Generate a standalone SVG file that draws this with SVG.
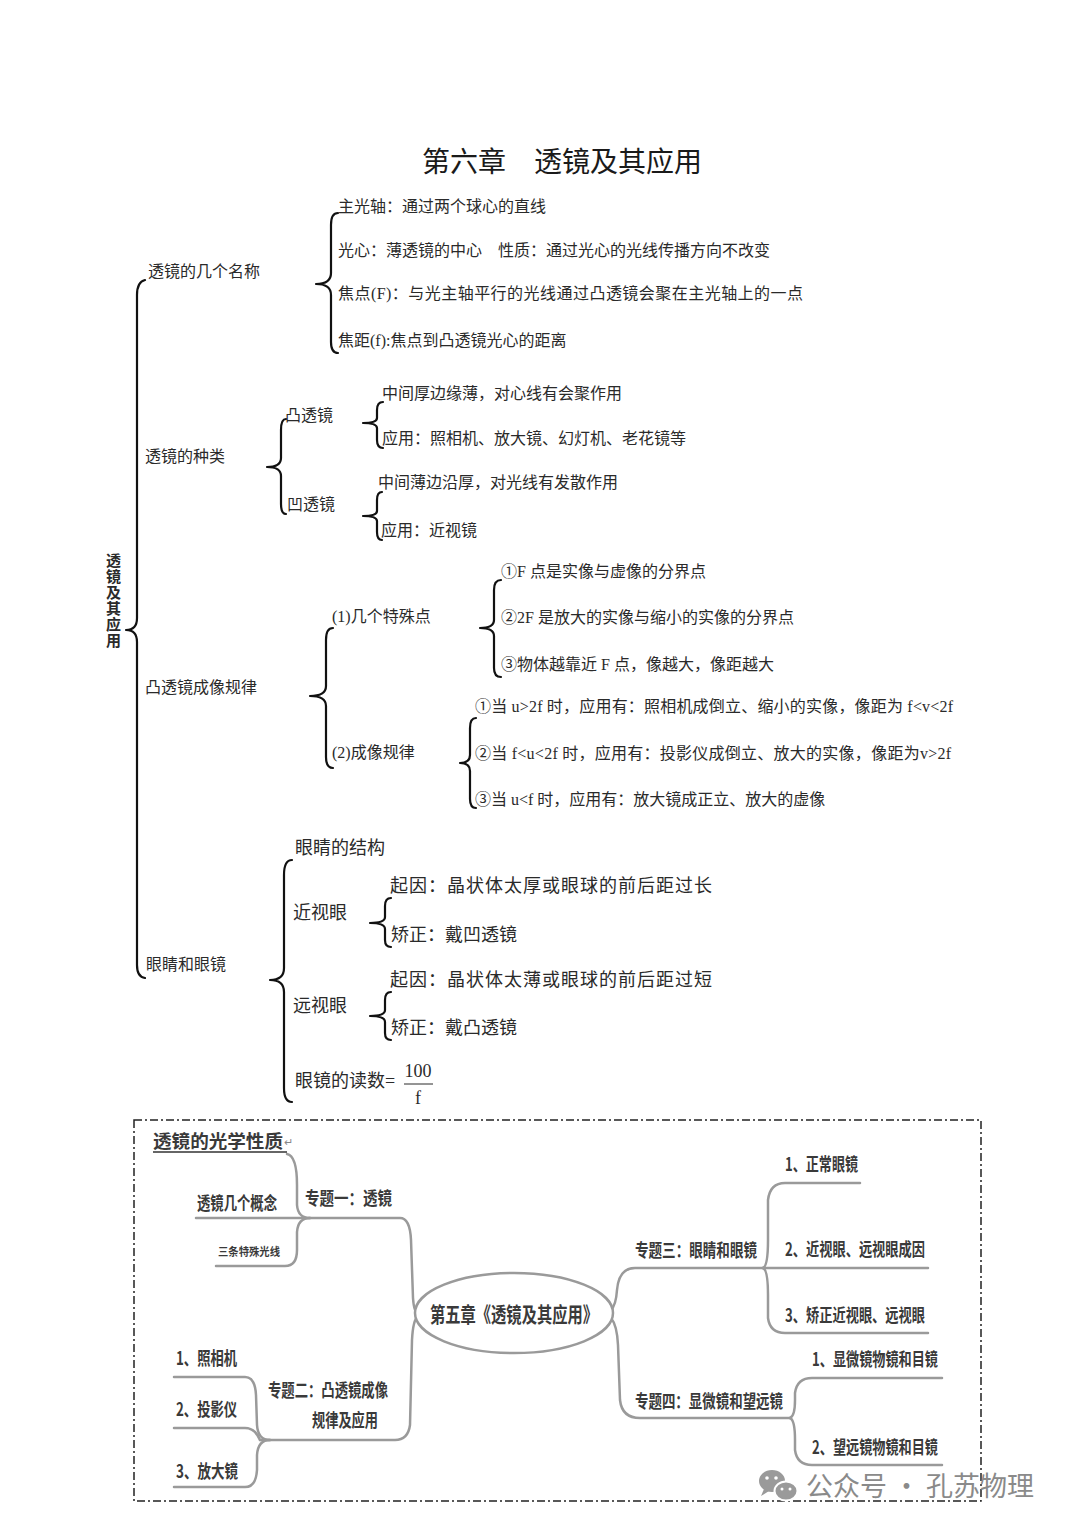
<svg xmlns="http://www.w3.org/2000/svg" width="1080" height="1528" viewBox="0 0 1080 1528">
<style>
.t{font-family:"Liberation Serif","Noto Sans CJK SC",serif;font-size:16px;fill:#2a2a2a}
.t18{font-family:"Liberation Serif","Noto Sans CJK SC",serif;font-size:18px;fill:#2a2a2a}
.title{font-family:"Liberation Serif","Noto Sans CJK SC",serif;font-size:28px;fill:#1a1a1a}
.br{fill:none;stroke:#111;stroke-width:2.2;stroke-linejoin:round;stroke-linecap:round}
.m{font-family:"Noto Sans CJK SC","Liberation Sans",sans-serif;font-weight:bold;font-size:18px;fill:#3a3a3a}
.ln{fill:none;stroke:#9a9a9a;stroke-width:2.5;stroke-linecap:round}
.wm{font-family:"Noto Sans CJK SC","Liberation Sans",sans-serif;font-size:27px;fill:#8a8a8a}
</style>
<rect width="1080" height="1528" fill="#ffffff"/>

<text class="title" x="422" y="172">第六章　透镜及其应用</text>

<g id="root">
<text class="t" style="font-size:15px;font-weight:bold" x="106" y="566">透</text>
<text class="t" style="font-size:15px;font-weight:bold" x="106" y="582">镜</text>
<text class="t" style="font-size:15px;font-weight:bold" x="106" y="598">及</text>
<text class="t" style="font-size:15px;font-weight:bold" x="106" y="614">其</text>
<text class="t" style="font-size:15px;font-weight:bold" x="106" y="630">应</text>
<text class="t" style="font-size:15px;font-weight:bold" x="106" y="646">用</text>
</g>

<g id="connectors">
<path class="br" d="M145,280 Q137,282 137,295 L137,618 Q137,630 126,630 Q137,630 137,642 L137,965 Q137,977 145,978"/>
<path class="br" d="M338,213 Q331,213 331,225 L331,273 Q331,284 316,284 Q331,284 331,295 L331,342 Q331,353 338,353"/>
<path class="br" d="M286,419 Q281,419 281,430 L281,458 Q281,467 267,467 Q281,467 281,476 L281,504 Q281,514 286,514"/>
<path class="br" d="M383,402 Q377,402 377,410 L377,418 Q377,423 363,423 Q377,423 377,428 L377,440 Q377,448 383,448"/>
<path class="br" d="M382,492 Q377,492 377,500 L377,511 Q377,516 363,516 Q377,516 377,521 L377,532 Q377,540 382,540"/>
<path class="br" d="M333,628 Q326,628 326,640 L326,686 Q326,696 310,696 Q326,696 326,706 L326,757 Q326,768 333,768"/>
<path class="br" d="M501,580 Q494,580 494,590 L494,620 Q494,628 480,628 Q494,628 494,636 L494,668 Q494,677 501,677"/>
<path class="br" d="M476,718 Q470,718 470,728 L470,755 Q470,763 460,763 Q470,763 470,771 L470,799 Q470,808 476,808"/>
<path class="br" d="M292,860 Q284,860 284,875 L284,968 Q284,980 270,980 Q284,980 284,992 L284,1088 Q284,1102 292,1102"/>
<path class="br" d="M391,898 Q385,898 385,906 L385,917 Q385,923 370,923 Q385,923 385,929 L385,940 Q385,947 391,947"/>
<path class="br" d="M391,992 Q385,992 385,1000 L385,1010 Q385,1016 370,1016 Q385,1016 385,1022 L385,1033 Q385,1040 391,1040"/>

<path class="ln" d="M287,1154 Q297,1156 297,1185 L297,1205 Q298,1218 310,1218"/>
<path class="ln" d="M196,1218 H400 Q410,1218 411,1240 L413,1298 Q414,1313 418,1313"/>
<path class="ln" d="M216,1266 H285 Q297,1266 297,1250 L297,1232 Q298,1218 310,1218"/>
<path class="ln" d="M418,1316 Q413,1320 412,1340 L410,1425 Q408,1440 395,1440 H260"/>
<path class="ln" d="M174,1377 H245 Q255,1377 256,1395 L257,1425 Q258,1440 270,1440"/>
<path class="ln" d="M174,1428 H245 Q255,1428 260,1440"/>
<path class="ln" d="M174,1487 H245 Q256,1487 257,1470 L257,1455 Q258,1440 270,1440"/>
<path class="ln" d="M611,1310 Q616,1305 617,1290 Q619,1268 635,1268 H763"/>
<path class="ln" d="M763,1268 Q768,1266 768,1240 L768,1200 Q770,1183 785,1183 H860"/>
<path class="ln" d="M763,1268 H928"/>
<path class="ln" d="M763,1268 Q768,1270 768,1295 L768,1318 Q770,1333 785,1333 H928"/>
<path class="ln" d="M611,1318 Q617,1325 618,1345 L620,1400 Q622,1418 640,1418 H790"/>
<path class="ln" d="M790,1418 Q795,1416 795,1400 L795,1393 Q797,1378 812,1378 H942"/>
<path class="ln" d="M790,1418 Q795,1420 795,1440 L795,1450 Q797,1465 812,1465 H942"/>
</g>

<g id="n-names">
<text class="t" x="148" y="277">透镜的几个名称</text>
<text class="t" x="338" y="212">主光轴：通过两个球心的直线</text>
<text class="t" x="338" y="256">光心：薄透镜的中心　性质：通过光心的光线传播方向不改变</text>
<text class="t" x="338" y="299" textLength="465" lengthAdjust="spacing">焦点(F)：与光主轴平行的光线通过凸透镜会聚在主光轴上的一点</text>
<text class="t" x="338" y="346">焦距(f):焦点到凸透镜光心的距离</text>
</g>

<g id="n-kinds">
<text class="t" x="145" y="462">透镜的种类</text>
<text class="t" x="285" y="421">凸透镜</text>
<text class="t" x="287" y="510">凹透镜</text>
<text class="t" x="382" y="399">中间厚边缘薄，对心线有会聚作用</text>
<text class="t" x="382" y="444">应用：照相机、放大镜、幻灯机、老花镜等</text>
<text class="t" x="378" y="488">中间薄边沿厚，对光线有发散作用</text>
<text class="t" x="381" y="536">应用：近视镜</text>
</g>

<g id="n-rules">
<text class="t" x="145" y="693">凸透镜成像规律</text>
<text class="t" x="332" y="622">(1)几个特殊点</text>
<text class="t" x="332" y="758">(2)成像规律</text>
<text class="t" x="501" y="577">①F 点是实像与虚像的分界点</text>
<text class="t" x="501" y="623">②2F 是放大的实像与缩小的实像的分界点</text>
<text class="t" x="501" y="670">③物体越靠近 F 点，像越大，像距越大</text>
<text class="t" x="475" y="712" textLength="478" lengthAdjust="spacing">①当 u&gt;2f 时，应用有：照相机成倒立、缩小的实像，像距为 f&lt;v&lt;2f</text>
<text class="t" x="475" y="759" textLength="476" lengthAdjust="spacing">②当 f&lt;u&lt;2f 时，应用有：投影仪成倒立、放大的实像，像距为v&gt;2f</text>
<text class="t" x="475" y="805">③当 u&lt;f 时，应用有：放大镜成正立、放大的虚像</text>
</g>

<g id="n-eyes">
<text class="t" x="146" y="970">眼睛和眼镜</text>
<text class="t18" x="295" y="854">眼睛的结构</text>
<text class="t18" x="293" y="919">近视眼</text>
<text class="t18" x="293" y="1012">远视眼</text>
<text class="t18" x="390" y="892" textLength="322" lengthAdjust="spacing">起因：晶状体太厚或眼球的前后距过长</text>
<text class="t18" x="391" y="941">矫正：戴凹透镜</text>
<text class="t18" x="390" y="986" textLength="322" lengthAdjust="spacing">起因：晶状体太薄或眼球的前后距过短</text>
<text class="t18" x="391" y="1034">矫正：戴凸透镜</text>
<text class="t18" x="295" y="1087">眼镜的读数=</text>
<text class="t18" x="418" y="1077" text-anchor="middle">100</text>
<line x1="404" y1="1084" x2="433" y2="1084" stroke="#2a2a2a" stroke-width="1"/>
<text class="t18" x="418" y="1104" text-anchor="middle">f</text>
</g>

<rect x="134" y="1120" width="847" height="381" fill="none" stroke="#222" stroke-width="1.5" stroke-dasharray="8 3 2 3"/>

<g id="m-title">
<text class="m" x="153" y="1148" textLength="130" lengthAdjust="spacingAndGlyphs">透镜的光学性质</text>
<text x="284" y="1146" style="font-family:'Liberation Sans',sans-serif;font-size:11px;fill:#888">↵</text>
<line x1="153" y1="1152" x2="287" y2="1152" stroke="#333" stroke-width="1.5"/>
</g>
<g id="m-topic1">
<text class="m" x="305" y="1205" textLength="87" lengthAdjust="spacingAndGlyphs">专题一：透镜</text>
</g>
<g id="m-concepts"><text class="m" x="197" y="1210" textLength="80" lengthAdjust="spacingAndGlyphs">透镜几个概念</text></g>
<g id="m-rays"><text class="m" x="218" y="1256" style="font-size:11px" textLength="62" lengthAdjust="spacingAndGlyphs">三条特殊光线</text></g>

<g id="m-center">
<ellipse cx="514" cy="1313" rx="99" ry="40" fill="#fff" stroke="#9a9a9a" stroke-width="2.5"/>
<text class="m" x="514" y="1322" text-anchor="middle" textLength="168" lengthAdjust="spacingAndGlyphs" style="font-size:21px">第五章《透镜及其应用》</text>
</g>

<g id="m-topic2">
<text class="m" x="268" y="1397" textLength="120" lengthAdjust="spacingAndGlyphs">专题二：凸透镜成像</text>
<text class="m" x="312" y="1427" textLength="66" lengthAdjust="spacingAndGlyphs">规律及应用</text>
</g>
<g id="m-t2a"><text class="m" x="176" y="1365" textLength="61" lengthAdjust="spacingAndGlyphs">1、照相机</text></g>
<g id="m-t2b"><text class="m" x="176" y="1416" textLength="61" lengthAdjust="spacingAndGlyphs">2、投影仪</text></g>
<g id="m-t2c"><text class="m" x="176" y="1478" textLength="62" lengthAdjust="spacingAndGlyphs">3、放大镜</text></g>

<g id="m-topic3"><text class="m" x="635" y="1257" textLength="122" lengthAdjust="spacingAndGlyphs">专题三：眼睛和眼镜</text></g>
<g id="m-t3a"><text class="m" x="785" y="1171" textLength="73" lengthAdjust="spacingAndGlyphs">1、正常眼镜</text></g>
<g id="m-t3b"><text class="m" x="785" y="1256" textLength="140" lengthAdjust="spacingAndGlyphs">2、近视眼、远视眼成因</text></g>
<g id="m-t3c"><text class="m" x="785" y="1322" textLength="140" lengthAdjust="spacingAndGlyphs">3、矫正近视眼、远视眼</text></g>

<g id="m-topic4"><text class="m" x="635" y="1408" textLength="148" lengthAdjust="spacingAndGlyphs">专题四：显微镜和望远镜</text></g>
<g id="m-t4a"><text class="m" x="812" y="1366" textLength="126" lengthAdjust="spacingAndGlyphs">1、显微镜物镜和目镜</text></g>
<g id="m-t4b"><text class="m" x="812" y="1454" textLength="126" lengthAdjust="spacingAndGlyphs">2、望远镜物镜和目镜</text></g>

<g id="watermark">
<ellipse cx="772" cy="1481" rx="13" ry="11" fill="#9a9a9a"/>
<path d="M764,1489 L761,1496 L769,1491 Z" fill="#9a9a9a"/>
<ellipse cx="786" cy="1491" rx="11.5" ry="9.5" fill="#9a9a9a" stroke="#fff" stroke-width="2"/>
<circle cx="767" cy="1478" r="1.8" fill="#fff"/>
<circle cx="776" cy="1478" r="1.8" fill="#fff"/>
<circle cx="782" cy="1489" r="1.5" fill="#fff"/>
<circle cx="790" cy="1489" r="1.5" fill="#fff"/>
<text class="wm" x="806" y="1496">公众号 · 孔苏物理</text>
</g>
</svg>
